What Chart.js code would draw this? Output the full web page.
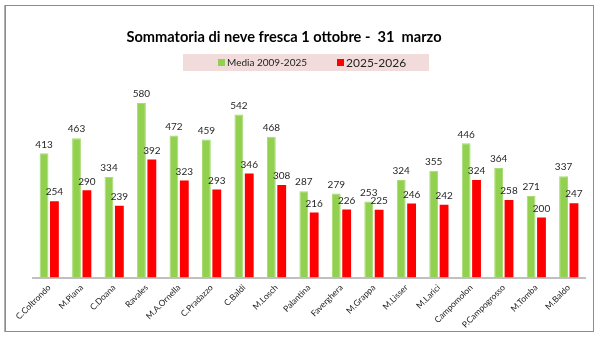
<!DOCTYPE html>
<html>
<head>
<meta charset="utf-8">
<script src="https://cdn.jsdelivr.net/npm/chart.js@4/dist/chart.umd.min.js"></script>
<style>
  html, body { margin: 0; padding: 0; background: #fff; }
  #wrap { width: 600px; height: 341px; position: relative; }
</style>
</head>
<body>
<div id="wrap"><canvas id="chart" width="600" height="341"></canvas></div>
<script>
// Stazioni e valori (cm)
const stations = ['C.Coltrondo', 'M.Piana', 'C.Doana', 'Ravales', 'M.A.Ornella', 'C.Pradazzo',
    'C.Baldi', 'M.Losch', 'Palantina', 'Faverghera', 'M.Grappa', 'M.Lisser', 'M.Larici',
    'Campomolon', 'P.Campogrosso', 'M.Tomba', 'M.Baldo'];
const media20092025 = [413, 463, 334, 580, 472, 459, 542, 468, 287, 279, 253, 324, 355, 446, 364, 271, 337];
const stagione20252026 = [254, 290, 239, 392, 323, 293, 346, 308, 216, 226, 225, 246, 242, 324, 258, 200, 247];

const titleText = 'Sommatoria di neve fresca 1 ottobre -  31  marzo';
const seriesNames = ['Media 2009-2025', '2025-2026'];
const GREEN = '#92d050';
const RED = '#ff0000';
const FONT = 'Lato, "Open Sans", sans-serif';

// Cornice, titolo e legenda
const framePlugin = {
    id: 'frame',
    beforeDraw(chart) {
        const ctx = chart.ctx;
        ctx.save();
        ctx.fillStyle = '#fff';
        ctx.fillRect(0, 0, chart.width, chart.height);
        ctx.strokeStyle = '#8c8c8c';
        ctx.lineWidth = 1;
        ctx.strokeRect(5.5, 5.5, 588, 326);
        ctx.fillStyle = '#b0b0b0';
        ctx.fillRect(4, 5, 1, 327);
        ctx.restore();
    },
    afterDraw(chart) {
        const ctx = chart.ctx;
        ctx.save();
        // titolo
        ctx.fillStyle = '#000';
        ctx.font = 'bold 14.6px ' + FONT;
        ctx.textAlign = 'center';
        ctx.textBaseline = 'middle';
        ctx.fillText(titleText, 284, 37);

        // legenda
        ctx.fillStyle = '#f2dcdb';
        ctx.fillRect(183, 54, 246, 17);
        const items = [
            { x: 218, size: 10 },
            { x: 337, size: 12 }
        ];
        chart.data.datasets.forEach((ds, i) => {
            const it = items[i];
            ctx.fillStyle = ds.backgroundColor;
            ctx.fillRect(it.x, 59, 7, 7);
            ctx.fillStyle = '#222';
            ctx.font = it.size + 'px ' + FONT;
            ctx.textAlign = 'left';
            ctx.textBaseline = 'middle';
            ctx.fillText(ds.label, it.x + 9, 63);
        });
        ctx.restore();
    }
};

// Valori sopra le barre
const valueLabels = {
    id: 'valueLabels',
    afterDatasetsDraw(chart) {
        const ctx = chart.ctx;
        ctx.save();
        ctx.fillStyle = '#262626';
        ctx.font = '10px ' + FONT;
        ctx.textAlign = 'center';
        ctx.textBaseline = 'bottom';
        chart.data.datasets.forEach((ds, i) => {
            chart.getDatasetMeta(i).data.forEach((bar, j) => {
                ctx.fillText(ds.data[j], bar.x, bar.y - 4);
            });
        });
        ctx.restore();
    }
};

new Chart(document.getElementById('chart'), {
    type: 'bar',
    data: {
        labels: stations,
        datasets: [{
            label: seriesNames[0],
            data: media20092025,
            backgroundColor: GREEN,
            borderColor: '#a6dc70',
            borderWidth: { left: 1, right: 1, top: 1, bottom: 0 },
            categoryPercentage: 0.64,
            barPercentage: 0.85
        }, {
            label: seriesNames[1],
            data: stagione20252026,
            backgroundColor: RED,
            categoryPercentage: 0.64,
            barPercentage: 0.85
        }]
    },
    options: {
        responsive: false,
        animation: false,
        layout: { padding: { left: 33, right: 15, top: 91, bottom: 6 } },
        plugins: {
            legend: { display: false },
            title: { display: false },
            tooltip: { enabled: false }
        },
        scales: {
            y: {
                display: false,
                min: 0,
                max: 620
            },
            x: {
                grid: { display: false, drawTicks: false },
                border: { display: true, color: '#c0c0c0', width: 2 },
                ticks: {
                    color: '#222',
                    font: { family: FONT, size: 8.5 },
                    minRotation: 45,
                    maxRotation: 45,
                    autoSkip: false,
                    padding: 5
                }
            }
        }
    },
    plugins: [framePlugin, valueLabels]
});
</script>
</body>
</html>
